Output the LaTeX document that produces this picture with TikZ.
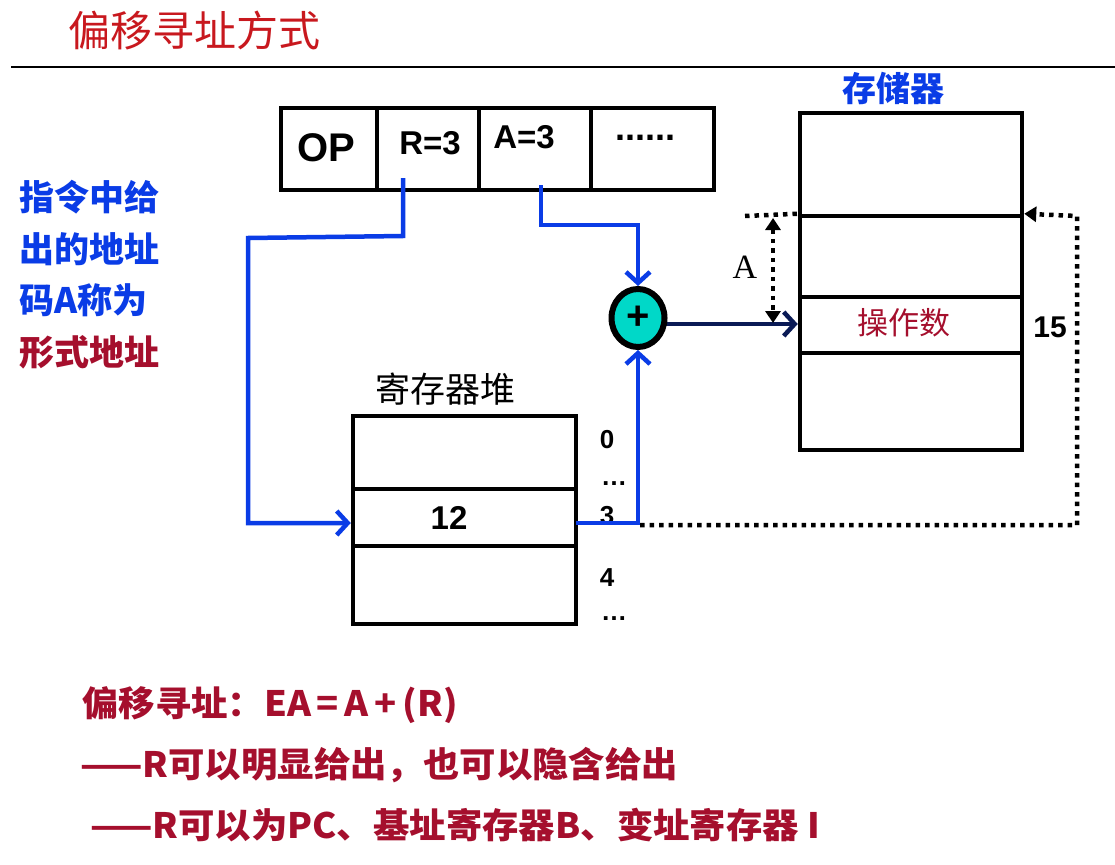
\documentclass[tikz,border=0pt]{standalone}
\usepackage{fontspec}
\setmainfont{Liberation Sans}
\newfontfamily\cjk{Noto Sans CJK SC}
\newfontfamily\cjkwide{Noto Sans CJK SC}[FakeStretch=1.04]
\newfontfamily\serifA{Liberation Serif}
\usetikzlibrary{arrows.meta,shapes.geometric}
\definecolor{titlered}{HTML}{C8181E}
\definecolor{darkred}{HTML}{A50F2D}
\definecolor{myblue}{HTML}{0A3CE6}
\definecolor{navy}{HTML}{0A1A55}
\definecolor{teal}{HTML}{00D8C8}
\tikzset{
  cell/.style={draw=black,line width=4.5pt,minimum width=#1,inner sep=0pt},
  blueline/.style={draw=myblue,line width=4.5pt},
  bluearrow/.style={blueline,-{Straight Barb[length=11pt,width=24pt,line width=4.5pt]}},
  dotline/.style={draw=black,line width=4.5pt,dash pattern=on 4.5pt off 5pt},
  lbl/.style={font=\bfseries\fontsize{26}{26}\selectfont,inner sep=0pt},
  bottomtxt/.style={font=\cjkwide\bfseries\fontsize{35}{35}\selectfont,text=darkred,anchor=west,inner sep=0pt}
}
\begin{document}
\begin{tikzpicture}[x=1pt,y=-1pt]
\useasboundingbox (0,0) rectangle (1115,864);
% title
\node[font=\cjk\fontsize{42}{42}\selectfont,text=titlered,anchor=west,inner sep=0pt] (title) at (68,30) {偏移寻址方式};
\draw[line width=2.5pt] (11,67) coordinate (hl) -- (1115,67) coordinate (hr);
% instruction
\node[cell=96pt,minimum height=82pt] (op) at (329,149) {};
\node[cell=102pt,minimum height=82pt] (rf) at (428,149) {};
\node[cell=112pt,minimum height=82pt] (af) at (535,149) {};
\node[cell=123pt,minimum height=82pt] (df) at (652.5,149) {};
\node[font=\bfseries\fontsize{40}{40}\selectfont,inner sep=0pt] (opt) at (326,148) {OP};
\node[font=\bfseries\fontsize{33}{33}\selectfont,inner sep=0pt] (rt) at (430,143) {R=3};
\node[font=\bfseries\fontsize{33}{33}\selectfont,inner sep=0pt] (at) at (524,137) {A=3};
\node[font=\bfseries\fontsize{36}{36}\selectfont,inner sep=0pt] (dt) at (645,138) {......};
% memory
\node[font=\cjk\bfseries\fontsize{34}{34}\selectfont,text=myblue,inner sep=0pt] (memt) at (893,88) {存储器};
\node[cell=222pt,minimum height=103pt] (m1) at (911,164.5) {};
\node[cell=222pt,minimum height=81pt] (m2) at (911,256.5) {};
\node[cell=222pt,minimum height=56pt] (m3) at (911,325) {};
\node[cell=222pt,minimum height=97pt] (m4) at (911,401.5) {};
\node[font=\cjk\fontsize{31}{31}\selectfont,text=darkred,inner sep=0pt] (opd) at (904,323) {操作数};
\node[font=\bfseries\fontsize{30}{30}\selectfont,inner sep=0pt] (n15) at (1050,327) {15};
% register heap
\node[font=\cjk\fontsize{35}{35}\selectfont,inner sep=0pt] (regt) at (445,389) {寄存器堆};
\node[cell=223pt,minimum height=73pt] (r1) at (464.5,452.5) {};
\node[cell=223pt,minimum height=57pt] (r2) at (464.5,517.5) {};
\node[cell=223pt,minimum height=78pt] (r3) at (464.5,585) {};
\node[font=\bfseries\fontsize{33}{33}\selectfont,inner sep=0pt] (n12) at (449,518) {12};
\node[lbl] (i0) at (607,440) {0};
\node[lbl] (d1) at (614,484) {…};
\node[lbl] (i3) at (607,516) {3};
\node[lbl] (i4) at (607,578) {4};
\node[lbl] (d2) at (614,619) {…};
% connectors (drawn under the adder)
\coordinate (rs) at (403,178);
\coordinate (as) at (541,185);
\draw[draw=navy,line width=4.5pt,-{Straight Barb[length=11pt,width=24pt,line width=4.5pt]}] (637,324) coordinate (ns) -- (m3.west |- ns);
% adder
\node[ellipse,draw=black,line width=6pt,fill=teal,minimum width=53pt,minimum height=58pt,inner sep=0pt,font=\bfseries\fontsize{40}{40}\selectfont] (add) at (638,318) {+};
\draw[bluearrow] (rs) -- (403,236) -- (248,238) -- (248,523) -- (r2.west |- 0,523);
\draw[bluearrow] (as) -- (541,225) -- (638,225) -- (add.north);
\draw[bluearrow] (576,523) -- (638,523) -- (add.south);
% dotted
\draw[dotline] (745,216) coordinate (ds) -- (m2.north west);
\draw[dotline,{Triangle[length=12pt,width=15pt]}-{Triangle[length=12pt,width=15pt]}] (773,218) -- (773,323);
\node[font=\serifA\fontsize{34}{34}\selectfont,inner sep=0pt] (alabel) at (745,267) {A};
\draw[dotline,-{Triangle[length=12pt,width=15pt]}] (640,525) -- (1077,525) -- (1077,216) -- (m2.north east);
% left text
\node[font=\cjk\bfseries\fontsize{35}{35}\selectfont,text=myblue,anchor=west,inner sep=0pt] (l1) at (19,197) {指令中给};
\node[font=\cjk\bfseries\fontsize{35}{35}\selectfont,text=myblue,anchor=west,inner sep=0pt] (l2) at (19,249) {出的地址};
\node[font=\cjk\bfseries\fontsize{35}{35}\selectfont,text=myblue,anchor=west,inner sep=0pt] (l3) at (19,300) {码A称为};
\node[font=\cjk\bfseries\fontsize{35}{35}\selectfont,text=darkred,anchor=west,inner sep=0pt] (l4) at (19,352) {形式地址};
% bottom text
\node[bottomtxt] (b1) at (82,705) {偏移寻址：EA\,=\,A\,+\,(R)};
\node[bottomtxt] (b2) at (80,765) {——R可以明显给出，也可以隐含给出};
\node[bottomtxt] (b3) at (90,825) {——R可以为PC、基址寄存器B、变址寄存器 I};
\end{tikzpicture}
\end{document}
